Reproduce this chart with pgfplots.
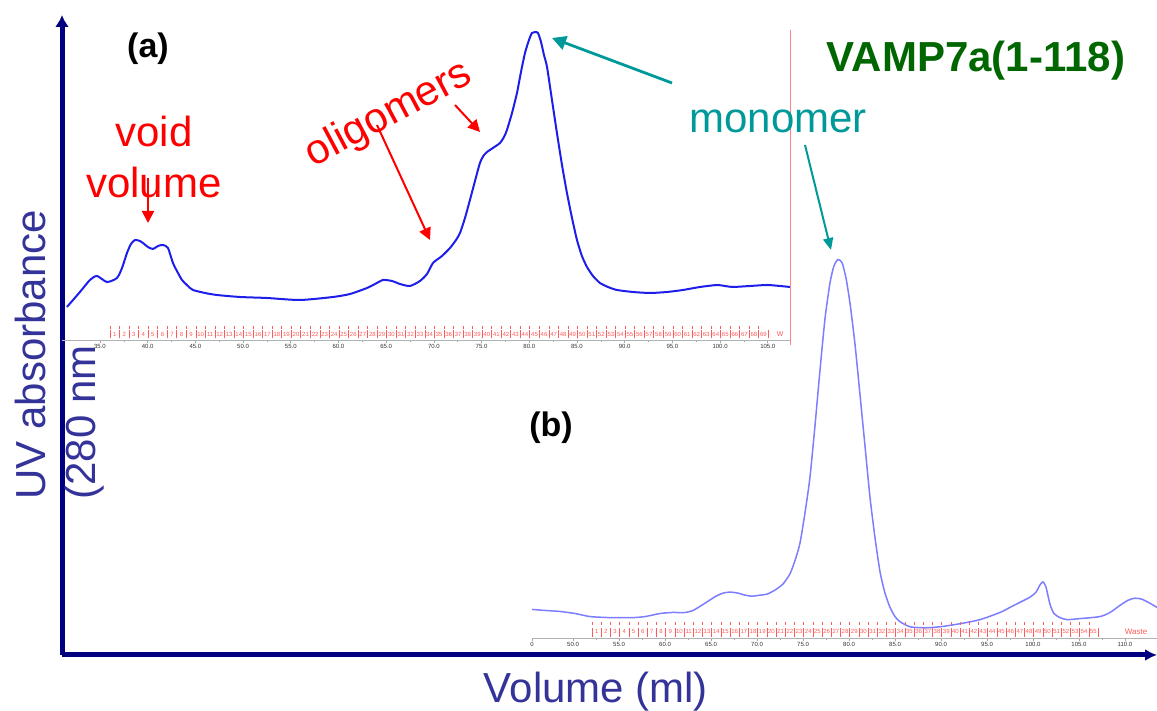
\documentclass[border=0pt]{standalone}
\usepackage{pgfplots}
\pgfplotsset{compat=1.18}
\usepackage{fontspec}
\setmainfont{Liberation Sans}
\usetikzlibrary{arrows.meta}

\definecolor{navyax}{RGB}{0,0,128}
\definecolor{slate}{RGB}{51,51,153}
\definecolor{monoteal}{RGB}{0,153,153}
\definecolor{darkgr}{RGB}{0,102,0}
\definecolor{curveA}{RGB}{30,30,235}
\definecolor{curveB}{RGB}{125,125,255}
\definecolor{fracred}{RGB}{255,90,90}
\definecolor{cutred}{RGB}{255,130,130}

\tikzset{ann/.style={font=\fontsize{21}{25}\selectfont, inner sep=0pt}}

\pgfplotsset{
  chrom/.style={
    anchor=south west, scale only axis,
    axis x line=bottom, axis y line=none, ytick=\empty,
    x axis line style={-, gray!60, line width=0.3pt},
    tick align=outside, minor x tick num=1,
    major tick length=1.5pt, minor tick length=0.8pt,
    tick style={gray!70, line width=0.3pt},
    xticklabel style={font=\fontsize{3}{3}\selectfont, text=gray!40!black, inner sep=0.6pt,
      /pgf/number format/.cd, fixed, fixed zerofill, precision=1, assume math mode=true},
    clip=false,
  },
}

\begin{document}
\begin{tikzpicture}
\useasboundingbox (0,0) rectangle (578.5pt,355.5pt);

% outer frame with arrows
\begin{axis}[at={(31pt,28pt)}, anchor=south west, scale only axis,
  width=547.5pt, height=320pt, xmin=0, xmax=1, ymin=0, ymax=1,
  axis x line=bottom, axis y line=left, xtick=\empty, ytick=\empty,
  axis line style={navyax, line width=2.5pt},
  x axis line style={-{Latex[length=6pt,width=6pt]}},
  y axis line style={-{Latex[length=6pt,width=7pt]}}]
\end{axis}

% (a) chromatogram
\begin{axis}[chrom, at={(31pt,185.5pt)}, width=364pt, height=170pt,
  xmin=31.02, xmax=107.33, ymin=0, ymax=340, xtick={35,40,...,105}]
\addplot[curveA, line width=1pt, smooth, tension=0.4] coordinates {
(31.54,33) (32.90,48) (33.95,60) (34.69,64) (35.73,58) (36.78,62) (37.31,72)
(37.83,87) (38.25,96) (38.67,100) (39.19,99) (39.51,97) (40.03,93) (40.56,91)
(41.08,94) (41.60,95) (42.13,92) (42.65,77) (43.18,67) (43.60,60) (44.22,54)
(44.75,50) (46.01,47) (47.26,45) (49.68,43) (52.51,42) (55.96,40) (59.42,43)
(61.21,46) (62.99,52) (63.83,56) (64.67,60) (65.61,59) (66.45,56) (67.49,54)
(68.54,59) (69.28,66) (69.91,77) (70.85,84) (71.69,92) (72.32,100) (72.74,107)
(73.26,122) (73.78,140) (74.31,159) (74.83,177) (75.25,185) (75.57,188)
(76.19,192) (76.93,197) (77.35,203) (77.66,210) (78.19,227) (78.71,247)
(79.13,268) (79.55,287) (79.97,300) (80.28,307) (80.60,308) (80.91,307)
(81.23,298) (81.54,285) (81.86,273) (82.38,240) (82.90,207) (83.43,175)
(83.95,147) (84.48,122) (85.00,100) (85.52,84) (86.05,73) (86.68,64)
(87.41,57) (88.25,53) (89.19,50) (90.87,48) (92.65,47) (94.43,48) (96.11,50)
(97.89,53) (99.68,55) (100.51,54) (101.35,53) (103.13,54) (104.92,55)
(106.28,54) (107.33,53)
};
\pgfplotsinvokeforeach{1,...,69}{
  \draw[fracred, line width=0.3pt] (axis cs:{35.05+#1},1.5) -- (axis cs:{35.05+#1},9.5);
  \draw[fracred, line width=0.3pt] (axis cs:{35.05+#1},11) -- (axis cs:{35.05+#1},13.5);
  \node[fracred, font=\fontsize{3}{3}\selectfont, inner sep=0pt] at (axis cs:{35.55+#1},5.5) {#1};
}
\draw[fracred, line width=0.3pt] (axis cs:105.05,1.5) -- (axis cs:105.05,9.5);
\node[fracred, font=\fontsize{3.5}{3.5}\selectfont, inner sep=0pt] at (axis cs:106.3,5.5) {W};
\end{axis}

% (b) chromatogram
\begin{axis}[chrom, at={(266pt,36.5pt)}, width=312.5pt, height=194pt,
  xmin=45.54, xmax=113.48, ymin=0, ymax=388, xtick={50,55,...,110},
  extra x ticks={45.54}, extra x tick labels={0}]
\addplot[curveB, line width=0.75pt, smooth, tension=0.4] coordinates {
(45.54,28) (46.96,27) (48.59,26) (50.22,24) (51.85,21) (54.02,20) (56.52,20)
(57.83,21) (59.46,24) (60.76,25) (62.17,25) (63.04,27) (63.80,31) (64.67,36)
(65.54,41) (66.30,44) (67.07,45) (67.93,44) (68.70,42) (69.46,41) (70.33,42)
(71.09,43) (71.96,47) (72.83,53) (73.59,63) (74.13,76) (74.67,93) (75.22,123)
(75.76,158) (76.30,208) (76.85,263) (77.39,313) (77.93,348) (78.37,365)
(78.80,371) (79.24,368) (79.67,353) (80.11,328) (80.65,288) (81.20,238)
(81.74,188) (82.28,138) (82.83,98) (83.37,65) (83.91,44) (84.46,30) (85.00,21)
(85.54,16) (86.63,11) (88.26,10) (89.89,11) (92.07,14) (94.24,18) (96.41,25)
(97.50,30) (98.59,35) (99.67,40) (100.33,45) (100.76,52) (101.09,55)
(101.41,50) (101.85,33) (102.28,24) (102.93,20) (103.70,18) (105.11,19)
(107.28,21) (108.37,25) (109.46,32) (110.33,37) (111.09,39) (111.85,38)
(112.72,34) (113.48,30)
};
\pgfplotsinvokeforeach{1,...,55}{
  \draw[fracred, line width=0.3pt] (axis cs:{51.07+#1},1) -- (axis cs:{51.07+#1},10);
  \draw[fracred, line width=0.3pt] (axis cs:{51.07+#1},13) -- (axis cs:{51.07+#1},16);
  \node[fracred, font=\fontsize{3}{3}\selectfont, inner sep=0pt] at (axis cs:{51.57+#1},6) {#1};
}
\draw[fracred, line width=0.3pt] (axis cs:107.07,1) -- (axis cs:107.07,10);
\node[fracred, font=\fontsize{4}{4}\selectfont, inner sep=0pt] at (axis cs:111.2,6) {Waste};
\end{axis}

% annotations, in picture pixel units
\begin{axis}[at={(0pt,0pt)}, anchor=south west, scale only axis,
  width=578.5pt, height=355.5pt, xmin=0, xmax=1157, ymin=0, ymax=711,
  y dir=reverse, hide axis, clip=false]
\draw[cutred, line width=0.5pt] (790,30) -- (790,345);

\node[ann, slate, rotate=90, anchor=base west] at (45,500) {UV absorbance};
\node[ann, slate, rotate=90, anchor=base west] at (95,500) {(280 nm};
\node[ann, slate, anchor=base] at (596,702) {Volume (ml)};

\node[font=\fontsize{17}{20}\selectfont\bfseries, inner sep=0pt] at (148,49) {(a)};
\node[font=\fontsize{17}{20}\selectfont\bfseries, inner sep=0pt] at (551,428) {(b)};
\node[ann, darkgr, font=\fontsize{21}{25}\selectfont\bfseries, anchor=base] at (976,72) {VAMP7a(1-118)};

\node[ann, red, anchor=base] at (154,147) {void};
\node[ann, red, anchor=base] at (154,198) {volume};
\draw[red, line width=1pt, -{Triangle[length=6pt,width=6pt]}] (148,178) -- (148,223);

\node[ann, red, rotate=28] at (389,115) {oligomers};
\draw[red, line width=1pt, -{Triangle[length=6pt,width=6pt]}] (377,125) -- (430,240);
\draw[red, line width=1pt, -{Triangle[length=6pt,width=6pt]}] (455,105) -- (480,132);

\node[ann, monoteal, anchor=base] at (778,133) {monomer};
\draw[monoteal, line width=1.4pt, -{Triangle[length=7pt,width=7pt]}] (672,83) -- (552,38);
\draw[monoteal, line width=1pt, -{Triangle[length=6pt,width=5pt]}] (805,145) -- (831,250);
\end{axis}
\end{tikzpicture}
\end{document}
